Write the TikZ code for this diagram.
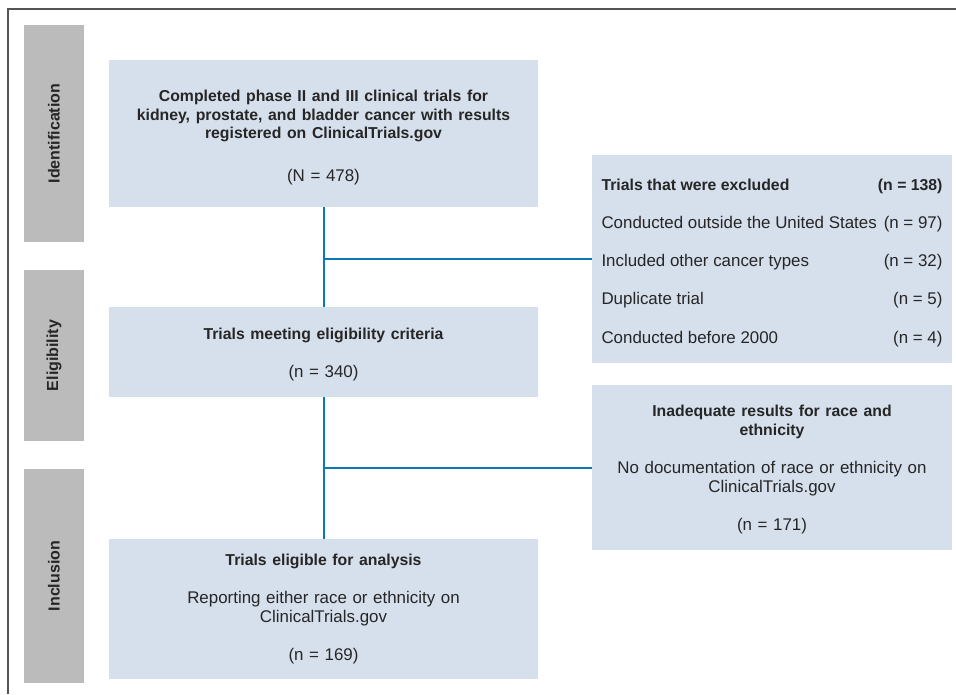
\documentclass[tikz,border=0pt]{standalone}
\usepackage{fontspec}
\setmainfont{Liberation Sans}
\usepackage{array}
\usepackage{xcolor}
\usetikzlibrary{calc}
\definecolor{boxfill}{HTML}{D6DFEC}
\definecolor{barfill}{HTML}{BBBBBB}
\definecolor{flowline}{HTML}{0B78B4}
\definecolor{frameline}{HTML}{555555}
\newcommand{\hd}[1]{{\fontsize{15.8}{18}\selectfont\bfseries #1}}
\tikzset{
	stagebar/.style={fill=barfill, rotate=90, minimum height=60pt, inner sep=0pt, font=\fontsize{16}{18}\selectfont\bfseries, text=black!85},
	flowbox/.style={fill=boxfill, inner sep=0pt, align=center, text width=400pt, minimum width=429pt, font=\fontsize{16.9}{18.5}\selectfont, text=black!85},
	sidebox/.style={fill=boxfill, inner sep=0pt, minimum width=360pt, font=\fontsize{16.9}{18.5}\selectfont, text=black!85},
	link/.style={flowline, line width=2pt}
}
\begin{document}
\begin{tikzpicture}[x=1pt,y=-1pt]
	\useasboundingbox (0,0) rectangle (956,694);
	%frame
	\draw[frameline, line width=2pt] (8,694)--(8,9)--(956,9);
	%stages
	\node[stagebar, minimum width=217pt] (idn) at (54,133.5) {Identification};
	\node[stagebar, minimum width=171pt] (elg) at (54,355.5) {Eligibility};
	\node[stagebar, minimum width=214pt] (inc) at (54,576) {Inclusion};
	%main boxes
	\node[flowbox, minimum height=147pt] (all) at (323.5,133.5)
		{\rule{0pt}{19pt}\hd{Completed phase II and III clinical trials for}\\
		 \hd{kidney, prostate, and bladder cancer with results}\\
		 \hd{registered on ClinicalTrials.gov}\\[24pt]
		 (N = 478)};
	\node[flowbox, minimum height=90pt] (meet) at (323.5,352)
		{\rule{0pt}{17pt}\hd{Trials meeting eligibility criteria}\\[19.5pt]
		 (n = 340)};
	\node[flowbox, minimum height=140pt] (final) at (323.5,609)
		{\hd{Trials eligible for analysis}\\[19.5pt]
		 Reporting either race or ethnicity on\\
		 ClinicalTrials.gov\\[19.5pt]
		 (n = 169)};
	%side boxes
	\node[sidebox, minimum height=208pt] (excl) at (772,259)
		{\renewcommand{\arraystretch}{2.065}%
		 \begin{tabular*}{341pt}{@{}l@{\extracolsep{\fill}}r@{}}
		 \hd{Trials that were excluded} & \hd{(n = 138)}\\
		 Conducted outside the United States & (n = 97)\\
		 Included other cancer types & (n = 32)\\
		 Duplicate trial & (n = 5)\\
		 Conducted before 2000 & (n = 4)
		 \end{tabular*}};
	\node[sidebox, minimum height=165pt, align=center, text width=340pt] (inad) at (772,467.5)
		{\rule{0pt}{16pt}\hd{Inadequate results for race and}\\
		 \hd{ethnicity}\\[20pt]
		 No documentation of race or ethnicity on\\
		 ClinicalTrials.gov\\[20pt]
		 (n = 171)};
	%connectors
	\draw[link] (all.south)--(meet.north);
	\draw[link] (meet.south)--(final.north);
	\coordinate (j1) at (all.south |- excl.west);
	\coordinate (j2) at (meet.south |- inad.west);
	\draw[link] (j1)--(excl.west);
	\draw[link] (j2)--(inad.west);
\end{tikzpicture}
\end{document}
